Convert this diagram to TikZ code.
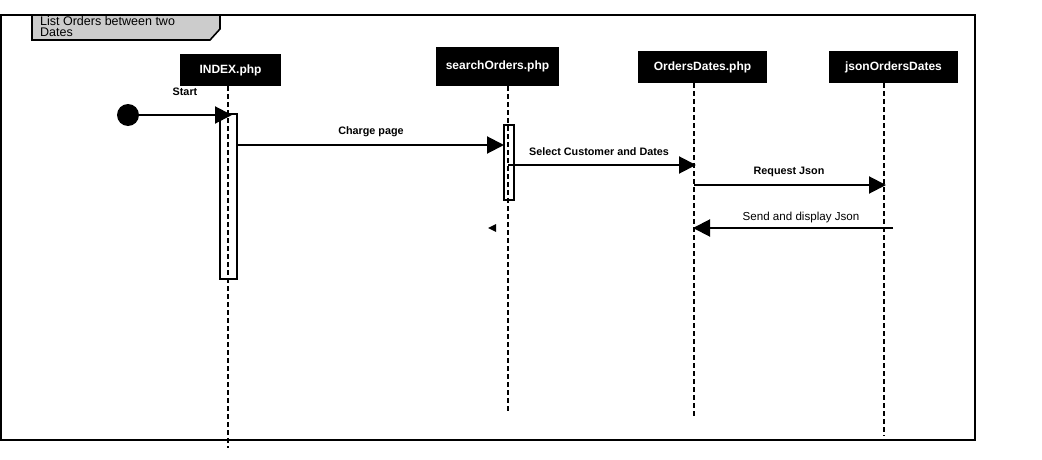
\documentclass[tikz,border=0pt]{standalone}
\usepackage{fontspec}
\setmainfont{Liberation Sans}
\usetikzlibrary{positioning,arrows.meta}

\tikzset{
  head/.style={fill=black,text=white,inner sep=0pt,
    font=\bfseries\fontsize{12}{14}\selectfont},
  life/.style={line width=2pt,dash pattern=on 5pt off 3pt},
  act/.style={draw,line width=1.6pt,inner sep=0pt},
  msg/.style={line width=2pt,-{Triangle[length=17pt,width=17pt]}},
  lbl/.style={font=\bfseries\fontsize{10.8}{13}\selectfont},
  lblplain/.style={font=\fontsize{11.6}{13}\selectfont}
}

\begin{document}
\begin{tikzpicture}[x=1pt,y=-1pt]
          \useasboundingbox (0,0) rectangle (1042,460);

          % frame and title tab
          \draw[line width=1.8pt] (1,15) rectangle (975,440);
          \draw[line width=1.6pt,fill=black!20] (32,15) -- (220,15) -- (220,29)
          -- (210,40) -- (32,40) -- cycle;
          \draw (40,16) node[anchor=north west,inner sep=0pt,align=left,
          font=\fontsize{12.5}{11}\selectfont] (title)
          {List Orders between two\\Dates};

          % lifeline heads
          \draw (230.5,70) node[head,minimum width=101pt,minimum height=32pt]
          (index) {INDEX.php};

          \draw (497.5,66.5) node[head,minimum width=123pt,minimum height=39pt]
          (search) {searchOrders.php};

          \draw (702.5,67) node[head,minimum width=129pt,minimum height=32pt]
          (orders) {OrdersDates.php};

          \draw (893.5,67) node[head,minimum width=129pt,minimum height=32pt]
          (json) {jsonOrdersDates};

          % activation boxes
          \draw (228.5,196.5) node[act,minimum width=17pt,minimum height=165pt]
          (indexAct) {};

          \draw (509,162.5) node[act,minimum width=10pt,minimum height=75pt]
          (searchAct) {};

          % lifelines
          \coordinate (indexTop) at (228,86);
          \coordinate (indexEnd) at (228,448);
          \coordinate (searchTop) at (508,86);
          \coordinate (searchEnd) at (508,413);
          \coordinate (ordersTop) at (694,83);
          \coordinate (ordersEnd) at (694,418);
          \coordinate (jsonTop) at (884,83);
          \coordinate (jsonEnd) at (884,436);

          \draw[life] (indexTop) -- (indexEnd);
          \draw[life] (searchTop) -- (searchEnd);
          \draw[life] (ordersTop) -- (ordersEnd);
          \draw[life] (jsonTop) -- (jsonEnd);

          % start
          \draw (128,115) node[circle,fill=black,minimum size=22pt,inner sep=0pt]
          (start) {};
          \coordinate (startIn) at (232,115);
          \draw[msg] (start) -- (startIn);
          \draw (185,92) node[lbl] (startLbl) {Start};

          % messages
          \coordinate (chargeOut) at (237,145);
          \coordinate (chargeIn) at (504,145);
          \draw[msg] (chargeOut) -- (chargeIn);
          \draw (371,132) node[lbl] (chargeLbl) {Charge page};

          \coordinate (selectOut) at (508,165);
          \coordinate (selectIn) at (696,165);
          \draw[msg] (selectOut) -- (selectIn);
          \draw (599,152) node[lbl] (selectLbl) {Select Customer and Dates};

          \coordinate (requestOut) at (694,185);
          \coordinate (requestIn) at (886,185);
          \draw[msg] (requestOut) -- (requestIn);
          \draw (789,172) node[lbl] (requestLbl) {Request Json};

          \coordinate (sendOut) at (893,228);
          \coordinate (sendIn) at (693,228);
          \draw[msg] (sendOut) -- (sendIn);
          \draw (801,217) node[lblplain] (sendLbl) {Send and display Json};

          % stray arrowhead
          \fill (496,224) -- (488,228) -- (496,232) -- cycle;
\end{tikzpicture}
\end{document}
